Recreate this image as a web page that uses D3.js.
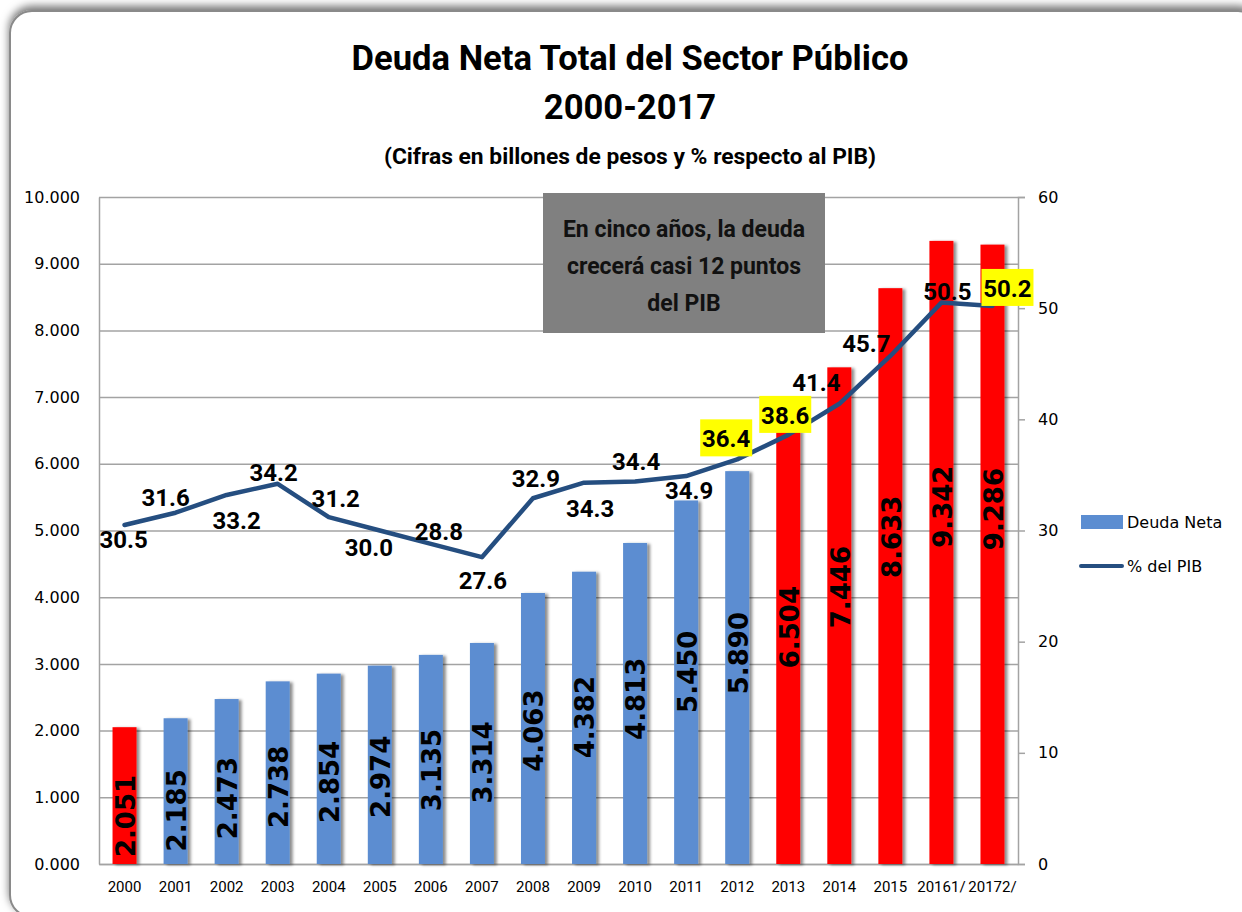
<!DOCTYPE html>
<html>
<head>
<meta charset="utf-8">
<script src="https://cdn.jsdelivr.net/npm/d3@7"></script>
<style>
  body { margin: 0; background: #fff; }
  svg { display: block; }
</style>
</head>
<body>
<svg id="chart" width="1242" height="912"></svg>
<script>
// data
const years = ['2000', '2001', '2002', '2003', '2004', '2005', '2006', '2007', '2008',
               '2009', '2010', '2011', '2012', '2013', '2014', '2015', '20161/', '20172/'];
const deudaNeta = [2.051, 2.185, 2.473, 2.738, 2.854, 2.974, 3.135, 3.314, 4.063,
                   4.382, 4.813, 5.450, 5.890, 6.504, 7.446, 8.633, 9.342, 9.286];
const pctPib = [30.5, 31.6, 33.2, 34.2, 31.2, 30.0, 28.8, 27.6, 32.9,
                34.3, 34.4, 34.9, 36.4, 38.6, 41.4, 45.7, 50.5, 50.2];
const redYears = ['2000', '2013', '2014', '2015', '20161/', '20172/'];
const yellowYears = ['2012', '2013', '20172/'];
const leftTicks = [0, 1, 2, 3, 4, 5, 6, 7, 8, 9, 10];
const rightTicks = [0, 10, 20, 30, 40, 50, 60];
const titleLines = ['Deuda Neta Total del Sector Público', '2000-2017'];
const subtitle = '(Cifras en billones de pesos y % respecto al PIB)';
const noteLines = ['En cinco años, la deuda', 'crecerá casi 12 puntos', 'del PIB'];
const legendNames = ['Deuda Neta', '% del PIB'];

// label nudges (layout only), relative to each line point
const pibNudge = [[-1, 14], [-10, -15], [10, 25], [-4, -11], [7, -19], [-11, 17],
                  [8, -12], [1, 23], [3, -20], [6, 26], [1, -20], [3, 14],
                  [-11, -21], [-3, -20], [-23, -21], [-24, -13], [6, -11], [15, -18]];

const blue = '#5B8DD1', red = '#FF0000', navy = '#254E80', grid = '#A3A3A3';
const calibri = 'Roboto, "Noto Sans", sans-serif';
const verdana = '"DejaVu Sans", Verdana, sans-serif';

const svg = d3.select('#chart');
const L = 99, R = 1018, T = 197, B = 864;

const defs = svg.append('defs');
defs.append('filter').attr('id', 'barShadow').attr('x', '-30%').attr('width', '160%')
  .append('feDropShadow').attr('dx', 3).attr('dy', 1).attr('stdDeviation', 1.8)
  .attr('flood-color', '#000').attr('flood-opacity', 0.45);
defs.append('filter').attr('id', 'frameShadow').attr('x', '-5%').attr('y', '-5%')
  .attr('width', '110%').attr('height', '110%')
  .append('feDropShadow').attr('dx', 0).attr('dy', -4).attr('stdDeviation', 4)
  .attr('flood-color', '#000').attr('flood-opacity', 0.55);

// outer frame
svg.append('rect').attr('x', 10).attr('y', 11).attr('width', 1250).attr('height', 906)
  .attr('rx', 22).attr('fill', '#fff').attr('stroke', '#8a8a8a').attr('stroke-width', 2)
  .attr('filter', 'url(#frameShadow)');

const x = d3.scaleBand().domain(years).range([L, R]).paddingInner(0.53).paddingOuter(0.265);
const yL = d3.scaleLinear().domain([0, 10]).range([B, T]);
const yR = d3.scaleLinear().domain([0, 60]).range([B, T]);
const cx = d => x(d) + x.bandwidth() / 2;

// gridlines
svg.append('g').attr('transform', `translate(${L},0)`)
  .call(d3.axisLeft(yL).tickValues(leftTicks).tickSize(-(R - L)).tickFormat(''))
  .call(g => g.select('.domain').remove())
  .call(g => g.selectAll('line').attr('stroke', grid).attr('stroke-width', 1.5));

// left axis
svg.append('g').attr('transform', `translate(${L},0)`)
  .call(d3.axisLeft(yL).tickValues(leftTicks).tickSize(0).tickPadding(19).tickFormat(d3.format('.3f')))
  .call(g => g.select('.domain').attr('stroke', grid).attr('stroke-width', 1.5))
  .call(g => g.selectAll('text').attr('font-family', verdana).attr('font-size', 16).attr('fill', '#000'));

// right axis
svg.append('g').attr('transform', `translate(${R},0)`)
  .call(d3.axisRight(yR).tickValues(rightTicks).tickSize(7).tickPadding(13))
  .call(g => g.select('.domain').attr('stroke', grid).attr('stroke-width', 1.5))
  .call(g => g.selectAll('line').attr('stroke', grid).attr('stroke-width', 1.5))
  .call(g => g.selectAll('text').attr('font-family', verdana).attr('font-size', 16).attr('fill', '#000'));

// x axis
svg.append('g').attr('transform', `translate(0,${B})`)
  .call(d3.axisBottom(x).tickSize(0).tickPadding(17))
  .call(g => g.select('.domain').attr('stroke', grid).attr('stroke-width', 1.5))
  .call(g => g.selectAll('text').attr('font-family', calibri).attr('font-size', 15).attr('fill', '#000'));

// bars
svg.append('g').selectAll('rect').data(years).join('rect')
  .attr('x', d => x(d))
  .attr('y', (d, i) => yL(deudaNeta[i]))
  .attr('width', x.bandwidth())
  .attr('height', (d, i) => B - yL(deudaNeta[i]))
  .attr('fill', d => redYears.includes(d) ? red : blue)
  .attr('filter', 'url(#barShadow)');

// bar labels (rotated)
svg.append('g').selectAll('text').data(years).join('text')
  .attr('transform', (d, i) => {
    const h = B - yL(deudaNeta[i]);
    const cy = B - 0.636 * h + 39;
    return `translate(${cx(d) + 1},${cy}) rotate(-90)`;
  })
  .attr('text-anchor', 'middle').attr('dy', '0.36em')
  .attr('font-family', verdana).attr('font-weight', 'bold').attr('font-size', 26)
  .attr('fill', '#000')
  .text((d, i) => d3.format('.3f')(deudaNeta[i]));

// % del PIB line
const line = d3.line().x(d => cx(d)).y((d, i) => yR(pctPib[i]));
svg.append('path').datum(years).attr('d', line)
  .attr('fill', 'none').attr('stroke', navy).attr('stroke-width', 4.5)
  .attr('stroke-linejoin', 'round').attr('stroke-linecap', 'round');

// line labels
const lbl = svg.append('g').selectAll('g').data(years).join('g')
  .attr('transform', (d, i) => `translate(${cx(d) + pibNudge[i][0]},${yR(pctPib[i]) + pibNudge[i][1]})`);
lbl.filter(d => yellowYears.includes(d)).append('rect')
  .attr('x', -26).attr('y', -19).attr('width', 52).attr('height', 37).attr('fill', '#FFFF00');
lbl.append('text').attr('text-anchor', 'middle').attr('dy', '0.36em')
  .attr('font-family', calibri).attr('font-weight', 'bold').attr('font-size', 24).attr('fill', '#000')
  .text((d, i) => d3.format('.1f')(pctPib[i]));

// note box
svg.append('rect').attr('x', 543).attr('y', 193).attr('width', 282).attr('height', 140).attr('fill', '#808080');
svg.append('g').selectAll('text').data(noteLines).join('text')
  .attr('x', 684).attr('y', (d, i) => 237 + i * 37)
  .attr('text-anchor', 'middle').attr('font-family', calibri).attr('font-weight', 'bold')
  .attr('font-size', 23).attr('fill', '#111').text(d => d);

// titles
svg.append('g').selectAll('text').data(titleLines).join('text')
  .attr('x', 630).attr('y', (d, i) => 70 + i * 49)
  .attr('text-anchor', 'middle').attr('font-family', calibri).attr('font-weight', 'bold')
  .attr('font-size', 34.6).attr('fill', '#000').text(d => d);
svg.append('text').attr('x', 630).attr('y', 164).attr('text-anchor', 'middle')
  .attr('font-family', calibri).attr('font-weight', 'bold').attr('font-size', 22.8)
  .attr('fill', '#000').text(subtitle);

// legend
const lg = svg.append('g').attr('font-family', verdana).attr('font-size', 16).attr('fill', '#000');
lg.append('rect').attr('x', 1081).attr('y', 515).attr('width', 42).attr('height', 14).attr('fill', blue);
lg.append('text').attr('x', 1127).attr('y', 522).attr('dy', '0.36em').text(legendNames[0]);
lg.append('line').attr('x1', 1081).attr('x2', 1122).attr('y1', 566).attr('y2', 566)
  .attr('stroke', navy).attr('stroke-width', 4).attr('stroke-linecap', 'round');
lg.append('text').attr('x', 1127).attr('y', 566).attr('dy', '0.36em').text(legendNames[1]);
</script>
</body>
</html>
